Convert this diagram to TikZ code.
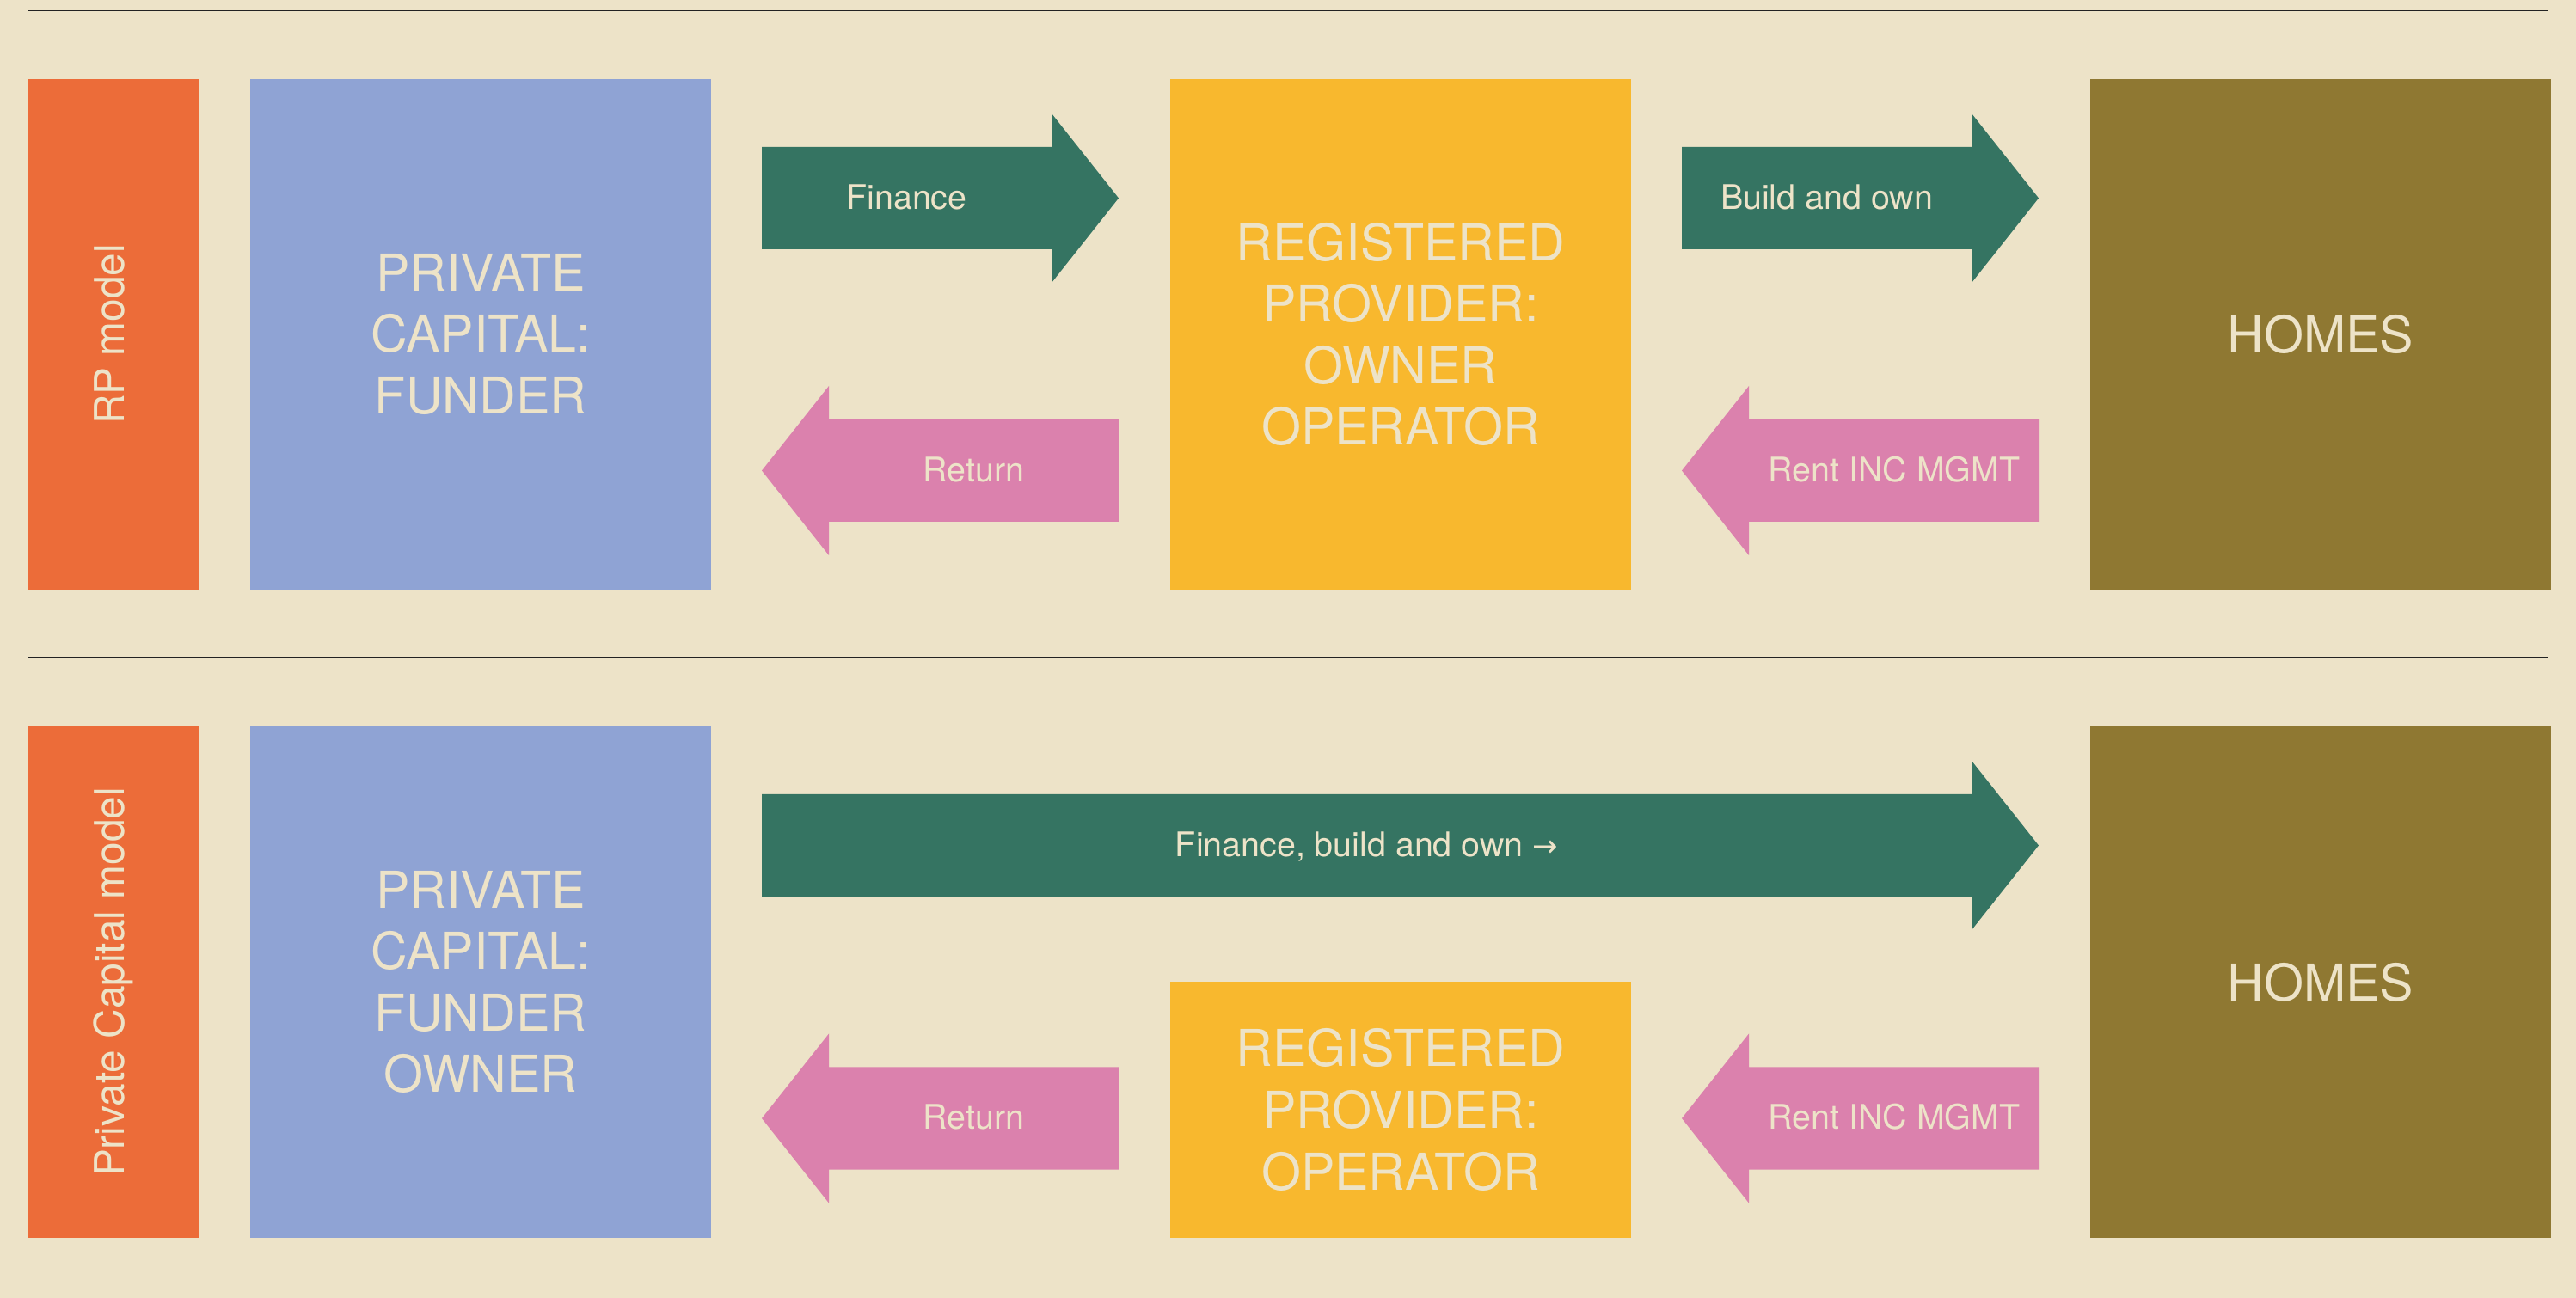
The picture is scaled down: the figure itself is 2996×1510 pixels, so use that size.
\documentclass[tikz,border=0pt]{standalone}
\usepackage{fontspec}
\setmainfont{TeX Gyre Heros}
\newfontfamily\symfont{DejaVu Sans}
\definecolor{bgc}{HTML}{EDE3C8}
\definecolor{orangec}{HTML}{EC6C39}
\definecolor{bluec}{HTML}{8FA3D4}
\definecolor{greenc}{HTML}{357462}
\definecolor{yellowc}{HTML}{F8B82E}
\definecolor{pinkc}{HTML}{DB81AD}
\definecolor{olivec}{HTML}{8F7832}
\definecolor{creamc}{HTML}{EDE3C8}
\definecolor{rulec}{HTML}{222222}
\newcommand{\fatright}[5]{%
  \fill[#1] ({#2},{#5-59.5}) -- ({#3},{#5-59.5}) -- ({#3},{#5-98.5}) -- ({#4},{#5})
    -- ({#3},{#5+98.5}) -- ({#3},{#5+59.5}) -- ({#2},{#5+59.5}) -- cycle;}
\newcommand{\fatleft}[5]{%
  \fill[#1] ({#2},{#5-59.5}) -- ({#3},{#5-59.5}) -- ({#3},{#5-98.5}) -- ({#4},{#5})
    -- ({#3},{#5+98.5}) -- ({#3},{#5+59.5}) -- ({#2},{#5+59.5}) -- cycle;}
\begin{document}
\begin{tikzpicture}[x=0.01cm,y=-0.01cm,
  box/.style={inner sep=0pt,outer sep=0pt,text=creamc,align=center,
    font=\fontsize{16.8pt}{20.35pt}\selectfont},
  side/.style={inner sep=0pt,outer sep=0pt,text=creamc,rotate=90,fill=orangec,
    minimum height=1.98cm,font=\fontsize{13.6pt}{16pt}\selectfont,
    text height=0.72em,text depth=0pt},
  lbl/.style={inner sep=0pt,text=creamc,font=\fontsize{11.2pt}{13pt}\selectfont,
    text height=0.72em,text depth=0pt},
  rule/.style={draw=rulec,line width=0.5pt}]
\fill[bgc] (0,0) rectangle (2996,1510);
% separator lines
\coordinate (r1a) at (33,12.5);
\coordinate (r1b) at (2963,12.5);
\coordinate (r2a) at (33,765);
\coordinate (r2b) at (2963,765);
\draw[rule] (r1a) -- (r1b);
\draw[rule] (r2a) -- (r2b);
% ---------- RP model ----------
\node[side,minimum width=5.94cm] (rp) at (132,389) {RP model};
\node[box,fill=bluec,minimum width=5.36cm,minimum height=5.94cm] (pc1) at (559,389)
  {PRIVATE\\CAPITAL:\\FUNDER};
\node[box,fill=yellowc,minimum width=5.36cm,minimum height=5.94cm] (rp1) at (1629,389)
  {REGISTERED\\PROVIDER:\\OWNER\\OPERATOR};
\node[box,fill=olivec,minimum width=5.36cm,minimum height=5.94cm] (h1) at (2699,389)
  {HOMES};
\fatright{greenc}{886}{1223}{1301}{230.5}
\fatright{greenc}{1956}{2293}{2371}{230.5}
\fatleft{pinkc}{1301}{964}{886}{547.5}
\fatleft{pinkc}{2372}{2034}{1956}{547.5}
\node[lbl] (fin1) at (1054.5,230.5) {Finance};
\node[lbl] (bao1) at (2124.5,230.5) {Build and own};
\node[lbl] (ret1) at (1132.5,547.5) {Return};
\node[lbl] (rent1) at (2203,547.5) {Rent INC MGMT};
% ---------- Private Capital model ----------
\node[side,minimum width=5.95cm] (pcm) at (132,1142.5) {Private Capital model};
\node[box,fill=bluec,minimum width=5.36cm,minimum height=5.95cm] (pc2) at (559,1142.5)
  {PRIVATE\\CAPITAL:\\FUNDER\\OWNER};
\node[box,fill=yellowc,minimum width=5.36cm,minimum height=2.98cm] (rp2) at (1629,1291)
  {REGISTERED\\PROVIDER:\\OPERATOR};
\node[box,fill=olivec,minimum width=5.36cm,minimum height=5.95cm] (h2) at (2699,1142.5)
  {HOMES};
\fatright{greenc}{886}{2293}{2371}{983.5}
\fatleft{pinkc}{1301}{964}{886}{1301}
\fatleft{pinkc}{2372}{2034}{1956}{1301}
\node[lbl] (fbo2) at (1589.5,983.5) {Finance, build and own {\symfont\fontsize{10pt}{12pt}\selectfont →}};
\node[lbl] (ret2) at (1132.5,1301) {Return};
\node[lbl] (rent2) at (2203,1301) {Rent INC MGMT};
\end{tikzpicture}
\end{document}
